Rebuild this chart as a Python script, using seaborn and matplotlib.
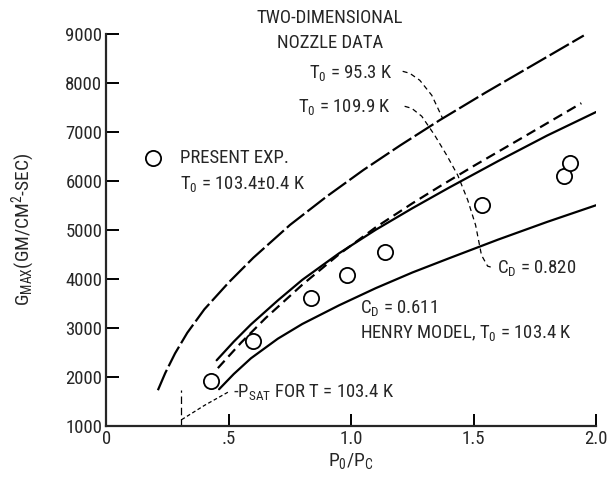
import matplotlib
matplotlib.use("Agg")
import matplotlib.pyplot as plt
import seaborn as sns
from matplotlib import font_manager

# ---- data ----
exp_x = [0.427, 0.598, 0.835, 0.983, 1.137, 1.534, 1.871, 1.895]
exp_y = [1917, 2731, 3607, 4075, 4537, 5510, 6100, 6353]

t953_x = [0.21, 0.24, 0.28, 0.33, 0.40, 0.50, 0.60, 0.75, 0.90, 1.05, 1.20, 1.36, 1.55, 1.75, 1.95]
t953_y = [1730, 2080, 2480, 2900, 3380, 3930, 4430, 5100, 5680, 6220, 6720, 7230, 7800, 8380, 8960]

t1099_x = [0.455, 0.55, 0.65, 0.80, 0.95, 1.10, 1.25, 1.36, 1.50, 1.70, 1.94]
t1099_y = [2180, 2700, 3200, 3880, 4500, 5050, 5540, 5880, 6300, 6880, 7580]

cd820_x = [0.45, 0.52, 0.59, 0.70, 0.80, 0.95, 1.10, 1.25, 1.40, 1.60, 1.80, 2.00]
cd820_y = [2340, 2720, 3070, 3560, 3980, 4520, 5000, 5440, 5860, 6400, 6920, 7400]

cd611_x = [0.46, 0.52, 0.59, 0.70, 0.80, 0.95, 1.10, 1.25, 1.40, 1.60, 1.80, 2.00]
cd611_y = [1750, 2060, 2380, 2780, 3080, 3460, 3810, 4130, 4420, 4800, 5160, 5500]

psat_x = [0.307, 0.40, 0.50]
psat_y = [1130, 1420, 1700]
psat_vert_x = [0.304, 0.304]
psat_vert_y = [1000, 1730]

lead953_x = [1.210, 1.239, 1.280, 1.329, 1.373]
lead953_y = [8230, 8190, 8047, 7741, 7273]
lead1099_x = [1.218, 1.247, 1.288, 1.341, 1.390, 1.435, 1.476, 1.508, 1.532, 1.557, 1.584]
lead1099_y = [7517, 7476, 7314, 6925, 6519, 6112, 5603, 5094, 4483, 4259, 4218]

xticks = [0, 0.5, 1.0, 1.5, 2.0]
xticklabels = ["0", ".5", "1.0", "1.5", "2.0"]
yticks = [1000, 2000, 3000, 4000, 5000, 6000, 7000, 8000, 9000]

# ---- style ----
sns.set_style("ticks")
names = {f.name for f in font_manager.fontManager.ttflist}
fam = [f for f in ["Liberation Sans Narrow", "DejaVu Sans Condensed", "Roboto Condensed"] if f in names]
plt.rcParams["font.family"] = fam + ["DejaVu Sans"]
plt.rcParams["mathtext.default"] = "regular"

fig = plt.figure(figsize=(6.11, 4.79), dpi=100)
ax = fig.add_axes([0.1743, 0.1106, 0.8012, 0.8194])

def line(x, y, **kw):
    sns.lineplot(x=x, y=y, ax=ax, color="black", sort=False, estimator=None, **kw)

line(t953_x, t953_y, lw=1.6, linestyle=(0, (10, 1.8)))
line(t1099_x, t1099_y, lw=1.6, linestyle=(0, (4.5, 2.5)))
line(cd820_x, cd820_y, lw=1.6)
line(cd611_x, cd611_y, lw=1.6)
line(psat_x, psat_y, lw=0.9, linestyle=(0, (3, 2)))
line(psat_vert_x, psat_vert_y, lw=0.9, linestyle=(0, (6, 3)))
line(lead953_x, lead953_y, lw=0.9, linestyle=(0, (4, 3)))
line(lead1099_x, lead1099_y, lw=0.9, linestyle=(0, (4, 3)))

sns.scatterplot(x=exp_x, y=exp_y, ax=ax, s=120, facecolor="white",
                edgecolor="black", linewidth=1.3, zorder=5)
ax.scatter([0.19], [6458], s=120, facecolor="white", edgecolor="black",
           linewidth=1.3, zorder=5, clip_on=False)

ax.set_xlim(0, 2.0)
ax.set_ylim(1000, 9000)
ax.set_xticks(xticks)
ax.set_xticklabels(xticklabels)
ax.set_yticks(yticks)
ax.tick_params(direction="in", length=9, width=1.4, labelsize=13.5, pad=3, color="black")
for s in ["left", "bottom"]:
    ax.spines[s].set_linewidth(1.6)
for s in ["top", "right"]:
    ax.spines[s].set_visible(False)

ax.set_xlabel(r"P$_0$/P$_C$", fontsize=14, labelpad=2)
ax.set_ylabel(r"G$_{MAX}$(GM/CM$^2$-SEC)", fontsize=14, labelpad=20)

fs = 13.5
ax.text(0.913, 9310, "TWO-DIMENSIONAL", ha="center", va="center", fontsize=fs, clip_on=False)
ax.text(0.913, 8800, "NOZZLE DATA", ha="center", va="center", fontsize=fs)
ax.text(0.826, 8190, r"T$_0$ = 95.3 K", ha="left", va="center", fontsize=fs)
ax.text(0.781, 7500, r"T$_0$ = 109.9 K", ha="left", va="center", fontsize=fs)
ax.text(0.30, 6458, "PRESENT EXP.", ha="left", va="center", fontsize=fs)
ax.text(0.30, 5929, r"T$_0$ = 103.4$\pm$0.4 K", ha="left", va="center", fontsize=fs)
ax.text(1.594, 4218, r"C$_D$ = 0.820", ha="left", va="center", fontsize=fs)
ax.text(1.035, 3400, r"C$_D$ = 0.611", ha="left", va="center", fontsize=fs)
ax.text(1.035, 2894, r"HENRY MODEL, T$_0$ = 103.4 K", ha="left", va="center", fontsize=fs)
ax.text(0.515, 1692, r"-P$_{SAT}$ FOR T = 103.4 K", ha="left", va="center", fontsize=fs)

fig.savefig("out.png", dpi=100)
